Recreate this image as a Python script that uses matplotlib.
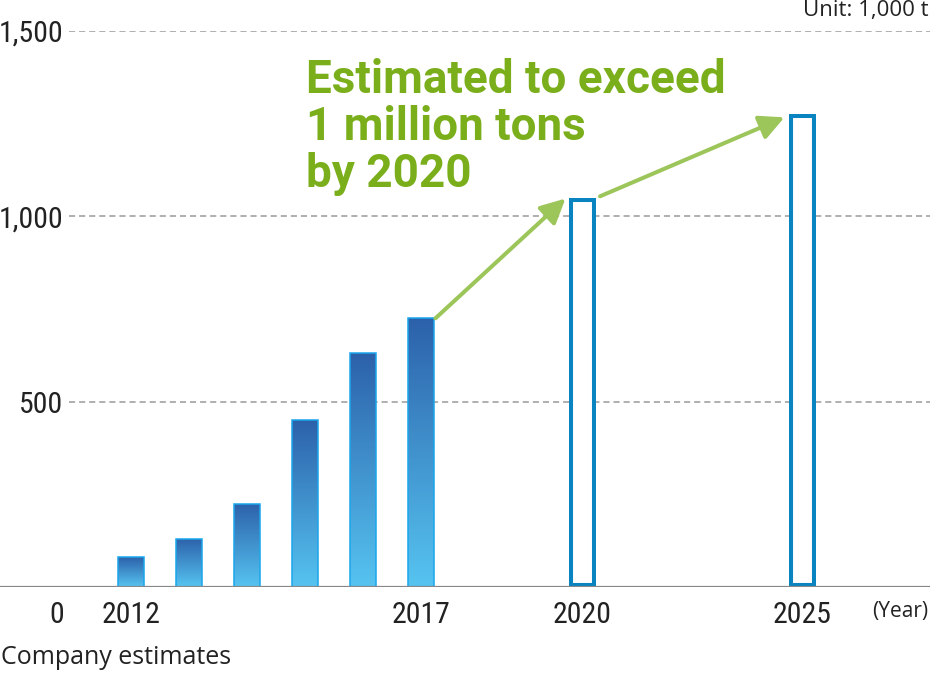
import matplotlib
matplotlib.use("Agg")
import matplotlib.pyplot as plt
import numpy as np
from matplotlib.colors import LinearSegmentedColormap
from matplotlib import font_manager

# ---- data ----
years = ["2012", "2013", "2014", "2015", "2016", "2017", "2020", "2025"]
year_labels = ["2012", "", "", "", "", "2017", "2020", "2025"]
values = [80, 130, 225, 450, 630, 725, 1050, 1275]
is_estimate = [False, False, False, False, False, False, True, True]
y_ticks = [500, 1000, 1500]
y_tick_labels = ["500", "1,000", "1,500"]

# ---- pick a condensed font if available ----
narrow_family, narrow_size = None, 21.5
for fam in ["Liberation Sans Narrow", "DejaVu Sans Condensed", "Roboto Condensed",
            "Open Sans Condensed", "Noto Sans Condensed", "Arial Narrow"]:
    try:
        font_manager.findfont(font_manager.FontProperties(family=fam),
                              fallback_to_default=False)
        narrow_family = fam
        break
    except Exception:
        pass
if narrow_family is None:
    narrow_family, narrow_size = "Roboto", 18.5
if narrow_family == "DejaVu Sans Condensed":
    narrow_size = 19.5

# ---- layout ----
W, H = 930, 674
fig = plt.figure(figsize=(W / 100, H / 100), dpi=100)
base_px, top_px = 587.0, 31.0
ax = fig.add_axes([0, (H - base_px) / H, 1, (base_px - top_px) / H])
x0_px, step_px = 131.0, 58.0
xlim = (-x0_px / step_px, (W - x0_px) / step_px)
ax.set_ylim(0, 1500)
ax.set_xlim(*xlim)
ax.axis("off")

positions = [0, 1, 2, 3, 4, 5, 7.784, 11.569]
px_per_unit = (base_px - top_px) / 1500.0


def ypx(v):
    return base_px - v * px_per_unit


def px2x(p):
    return (p - x0_px) / step_px


def ftext(xp, yp, s, **kw):
    fig.text(xp / W, 1 - yp / H, s, **kw)


# grid lines
for t in y_ticks:
    ax.hlines(t, px2x(69), xlim[1], colors="#9a9a9a", lw=1.1,
              linestyles=(0, (4, 2.6)), zorder=1)
# baseline
ax.axhline(0, color="#888888", lw=1.6, zorder=5)

grad_cmap = LinearSegmentedColormap.from_list("g", ["#56c4f1", "#2c61aa"])
grad = np.linspace(0, 1, 256).reshape(-1, 1)

w_fill = 25.5 / step_px
w_hollow = 27.0 / step_px
for pos, v, est in zip(positions, values, is_estimate):
    if est:
        b = ax.bar(pos, v, width=w_hollow, facecolor="white", edgecolor="#0a83c1",
                   linewidth=5.8, zorder=3)[0]
        b.set_clip_path(b)
    else:
        b = ax.bar(pos, v, width=w_fill, facecolor="none", edgecolor="#1aa6ec",
                   linewidth=1.1, zorder=4)[0]
        im = ax.imshow(grad, cmap=grad_cmap, origin="lower", aspect="auto",
                       extent=(pos - w_fill / 2, pos + w_fill / 2, 0, v), zorder=3)
        im.set_clip_path(b)

ax.set_ylim(0, 1500)
ax.set_xlim(*xlim)

# arrows
arrow_kw = dict(arrowstyle="-|>,head_length=1.0,head_width=0.5", color="#9cc55a",
                lw=2.9, mutation_scale=15, shrinkA=0, shrinkB=0)
ax.annotate("", xy=(positions[6] - w_hollow / 2 - 0.06, values[6] - 2),
            xytext=(positions[5] + w_fill / 2 + 0.03, values[5]),
            arrowprops=arrow_kw, zorder=6)
ax.annotate("", xy=(positions[7] - w_hollow / 2 - 0.07, values[7] - 8),
            xytext=(positions[6] + w_hollow / 2 + 0.07, values[6] + 4),
            arrowprops=arrow_kw, zorder=6)

narrow = [narrow_family, "DejaVu Sans"]
normal = ["Open Sans", "DejaVu Sans"]
txt_col = "#222222"

# y tick labels
for t, lab in zip(y_ticks, y_tick_labels):
    ftext(63, ypx(t) + 11, lab, ha="right", va="baseline", fontsize=narrow_size,
          family=narrow, color=txt_col)
ftext(56.5, 622.7, "0", ha="center", va="baseline", fontsize=narrow_size,
      family=narrow, color=txt_col)

# x labels
for pos, lab in zip(positions, year_labels):
    if lab:
        ftext(x0_px + pos * step_px, 622.7, lab, ha="center", va="baseline",
              fontsize=narrow_size, family=narrow, color=txt_col)

ftext(928, 616.5, "(Year)", ha="right", va="baseline", fontsize=15,
      family=normal, color=txt_col)
ftext(929, 16, "Unit: 1,000 t", ha="right", va="baseline", fontsize=16,
      family=normal, color=txt_col)
ftext(1, 664, "Company estimates", ha="left", va="baseline", fontsize=18,
      family=normal, color=txt_col)

green = "#7aae1b"
for i, line in enumerate(["Estimated to exceed", "1 million tons", "by 2020"]):
    ftext(306, 93.3 + i * 46.7, line, ha="left", va="baseline", fontsize=33,
          family=["Roboto", "DejaVu Sans"], weight="bold", color=green)

fig.savefig("out.png", dpi=100)
